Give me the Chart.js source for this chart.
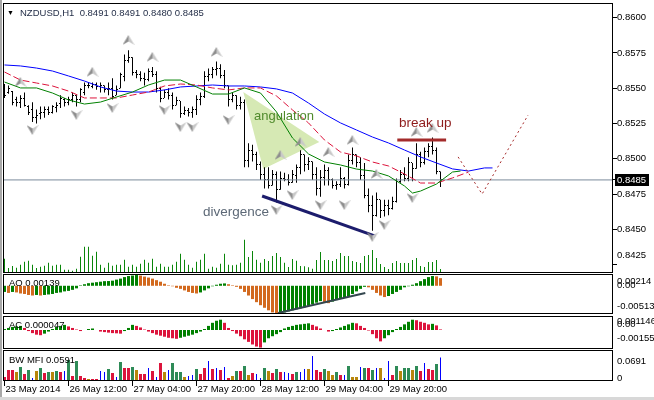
<!DOCTYPE html>
<html>
<head>
<meta charset="utf-8">
<title>NZDUSD,H1</title>
<script src="https://cdn.jsdelivr.net/npm/chart.js@4.4.1/dist/chart.umd.min.js"></script>
<style>
  html, body { margin: 0; padding: 0; background: #fff; }
  #wrap { position: relative; width: 654px; height: 400px; overflow: hidden; background: #fff;
          font-family: 'Liberation Sans', Arial, sans-serif; }
  #wrap canvas { position: absolute; left: 0; }
  .t { position: absolute; white-space: pre; line-height: 1; transform: translateY(-50%); font-size: 9.5px; color: #000; }
  .note { font-size: 13.5px; }
  .edge { position: absolute; }
</style>
</head>
<body>
<div id="wrap">
  <div class="edge" style="left:0;top:0;width:2px;height:400px;background:#a8a8a8"></div>
  <div class="edge" style="left:0;top:397px;width:654px;height:3px;background:#d8d8d8"></div>
  <canvas id="main" width="654" height="273" style="top:0"></canvas>
  <canvas id="ao" width="654" height="40" style="top:274px"></canvas>
  <canvas id="ac" width="654" height="33" style="top:316px"></canvas>
  <canvas id="bw" width="654" height="50" style="top:350px"></canvas>
  <div class="t" style="left:7px;top:12px;font-size:7px">▼</div>
  <div class="t" id="hdr" style="left:20px;top:13px;color:#1f2a44"></div>
  <div class="t" id="aoLbl" style="left:9px;top:283px"></div>
  <div class="t" id="acLbl" style="left:9px;top:325px"></div>
  <div class="t" id="bwLbl" style="left:9px;top:359.5px"></div>
  <div class="t note" style="left:254px;top:115px;font-size:13px;color:#4f8a2b">angulation</div>
  <div class="t note" style="left:203px;top:212px;color:#5d6977">divergence</div>
  <div class="t note" style="left:399px;top:123px;color:#8e1b1b">break up</div>
</div>
<script>
// symbol
const symbol = 'NZDUSD';
const period = 'H1';

// H1 bars, oldest first
const barOpen = [
  0.8552,0.8547,0.8548,0.8542,0.8540,0.8543,0.8537,0.8535,0.8529,0.8532,
  0.8533,0.8535,0.8533,0.8536,0.8539,0.8542,0.8540,0.8542,0.8545,0.8542,
  0.8547,0.8552,0.8551,0.8553,0.8551,0.8552,0.8549,0.8550,0.8545,0.8550,
  0.8558,0.8570,0.8572,0.8561,0.8560,0.8557,0.8556,0.8562,0.8560,0.8550,
  0.8543,0.8547,0.8545,0.8538,0.8541,0.8532,0.8534,0.8533,0.8535,0.8542,
  0.8544,0.8558,0.8560,0.8563,0.8564,0.8559,0.8552,0.8542,0.8545,0.8538,
  0.8540,0.8499,0.8506,0.8503,0.8496,0.8489,0.8485,0.8481,0.8489,0.8478,
  0.8486,0.8485,0.8483,0.8488,0.8494,0.8503,0.8496,0.8498,0.8489,0.8479,
  0.8487,0.8492,0.8485,0.8481,0.8482,0.8486,0.8482,0.8499,0.8503,0.8497,
  0.8488,0.8474,0.8467,0.8460,0.8471,0.8463,0.8467,0.8465,0.8470,0.8484,
  0.8489,0.8486,0.8497,0.8493,0.8503,0.8497,0.8505,0.8509,0.8506,0.8491];
const barHigh = [
  0.8553,0.8552,0.8548,0.8544,0.8545,0.8547,0.8538,0.8540,0.8535,0.8537,
  0.8537,0.8537,0.8538,0.8540,0.8545,0.8543,0.8544,0.8547,0.8545,0.8550,
  0.8554,0.8554,0.8554,0.8554,0.8554,0.8552,0.8554,0.8557,0.8552,0.8561,
  0.8574,0.8577,0.8572,0.8563,0.8562,0.8561,0.8564,0.8565,0.8562,0.8551,
  0.8549,0.8550,0.8547,0.8544,0.8541,0.8537,0.8536,0.8537,0.8545,0.8547,
  0.8562,0.8564,0.8565,0.8569,0.8567,0.8563,0.8552,0.8547,0.8545,0.8544,
  0.8542,0.8511,0.8510,0.8505,0.8498,0.8494,0.8494,0.8492,0.8491,0.8491,
  0.8490,0.8489,0.8492,0.8496,0.8506,0.8503,0.8501,0.8498,0.8494,0.8492,
  0.8496,0.8494,0.8486,0.8484,0.8494,0.8487,0.8503,0.8508,0.8503,0.8501,
  0.8497,0.8479,0.8474,0.8476,0.8471,0.8471,0.8471,0.8473,0.8486,0.8492,
  0.8494,0.8501,0.8497,0.8511,0.8505,0.8508,0.8511,0.8515,0.8508,0.8491];
const barLow = [
  0.8543,0.8546,0.8538,0.8537,0.8536,0.8537,0.8531,0.8526,0.8525,0.8528,
  0.8529,0.8531,0.8532,0.8533,0.8536,0.8537,0.8538,0.8540,0.8537,0.8540,
  0.8545,0.8550,0.8550,0.8549,0.8547,0.8547,0.8545,0.8542,0.8545,0.8550,
  0.8555,0.8568,0.8559,0.8557,0.8555,0.8552,0.8555,0.8558,0.8547,0.8540,
  0.8543,0.8542,0.8535,0.8538,0.8529,0.8531,0.8530,0.8529,0.8531,0.8538,
  0.8543,0.8555,0.8557,0.8559,0.8557,0.8550,0.8537,0.8540,0.8535,0.8535,
  0.8494,0.8494,0.8498,0.8492,0.8485,0.8479,0.8479,0.8481,0.8469,0.8478,
  0.8484,0.8481,0.8483,0.8483,0.8489,0.8491,0.8492,0.8485,0.8474,0.8473,
  0.8481,0.8481,0.8479,0.8478,0.8480,0.8479,0.8481,0.8496,0.8494,0.8485,
  0.8472,0.8462,0.8449,0.8459,0.8458,0.8459,0.8460,0.8464,0.8469,0.8483,
  0.8484,0.8484,0.8484,0.8493,0.8494,0.8496,0.8501,0.8503,0.8489,0.8480];
const barClose = [
  0.8545,0.8550,0.8540,0.8540,0.8543,0.8538,0.8533,0.8529,0.8531,0.8533,
  0.8535,0.8533,0.8537,0.8538,0.8543,0.8540,0.8542,0.8545,0.8542,0.8549,
  0.8552,0.8552,0.8553,0.8551,0.8552,0.8549,0.8550,0.8544,0.8549,0.8560,
  0.8570,0.8572,0.8561,0.8560,0.8557,0.8556,0.8562,0.8560,0.8550,0.8543,
  0.8547,0.8545,0.8538,0.8541,0.8532,0.8534,0.8533,0.8535,0.8542,0.8544,
  0.8558,0.8560,0.8563,0.8564,0.8559,0.8552,0.8542,0.8545,0.8538,0.8540,
  0.8499,0.8506,0.8503,0.8496,0.8489,0.8485,0.8481,0.8489,0.8478,0.8486,
  0.8485,0.8483,0.8489,0.8494,0.8503,0.8496,0.8498,0.8489,0.8479,0.8487,
  0.8492,0.8485,0.8481,0.8482,0.8486,0.8482,0.8499,0.8503,0.8497,0.8488,
  0.8474,0.8467,0.8460,0.8471,0.8463,0.8467,0.8465,0.8470,0.8484,0.8489,
  0.8486,0.8497,0.8493,0.8503,0.8497,0.8505,0.8509,0.8506,0.8491,0.8485];
const tickVolume = [
  860,300,420,320,500,680,740,500,300,380,
  440,620,440,500,500,200,200,140,260,980,
  1580,1580,1040,1280,500,320,620,440,500,500,
  800,380,500,380,560,800,620,860,380,560,
  380,380,500,680,1160,800,500,320,680,800,
  1160,260,380,320,560,1160,500,460,500,620,
  2000,960,1320,800,620,840,720,1020,1200,960,
  620,360,840,740,420,400,340,260,780,1260,
  780,780,720,840,1200,1020,1020,720,660,600,
  1020,1080,1380,900,540,360,240,600,720,600,
  600,600,780,900,420,360,660,660,780,240];

// time axis
const timeTickIdx = [0, 16, 32, 48, 64, 80, 96];
const timeLabels = ['23 May 2014', '26 May 12:00', '27 May 04:00', '27 May 20:00', '28 May 12:00', '29 May 04:00', '29 May 20:00'];

// price axis
const bidPrice = 0.8485;
const priceTicks = [0.8425, 0.8450, 0.8475, 0.8485, 0.8500, 0.8525, 0.8550, 0.8575, 0.8600];

// Alligator (already shifted forward)
const jawIdx = [0,4,8,12,16,20,24,28,32,36,40,44,48,52,56,60,64,68,72,76,80,84,88,92,96,100,104,108,112,116,120,122];
const jawVal = [0.85665,0.85658,0.85643,0.85622,0.85587,0.85551,0.85509,0.85480,0.85473,0.85473,0.85488,0.85509,0.85516,0.85523,0.85516,0.85516,
  0.85509,0.85495,0.85466,0.85395,0.85317,0.85254,0.85204,0.85154,0.85112,0.85062,0.85013,0.84970,0.84928,0.84913,0.84935,0.84935];
const teethIdx = [0,4,8,12,16,20,24,28,32,36,40,44,48,52,56,60,64,68,72,76,80,84,88,92,96,100,104,108,112,116];
const teethVal = [0.85615,0.85558,0.85537,0.85516,0.85480,0.85431,0.85431,0.85431,0.85452,0.85473,0.85516,0.85530,0.85523,0.85502,0.85488,
  0.85502,0.85502,0.85445,0.85346,0.85254,0.85133,0.85048,0.85020,0.84977,0.84949,0.84892,0.84828,0.84828,0.84864,0.84906];
const lipsIdx = [0,4,8,12,16,20,24,28,32,36,40,44,48,52,56,60,64,68,72,76,80,84,88,92,96,100,102,104,108,112,114];
const lipsVal = [0.85544,0.85502,0.85502,0.85466,0.85417,0.85388,0.85402,0.85438,0.85473,0.85523,0.85558,0.85558,0.85509,0.85459,0.85459,0.85502,
  0.85466,0.85332,0.85147,0.85034,0.84977,0.84956,0.84927,0.84913,0.84878,0.84807,0.84757,0.84771,0.84821,0.84906,0.84913];

// Fractals (arrow anchor)
const fracUpIdx = [4, 22, 31, 37, 53, 69, 74, 81, 87, 93, 103, 107];
const fracUpVal = [0.85545, 0.85616, 0.85842, 0.85722, 0.85757, 0.85027, 0.85119, 0.85048, 0.85133, 0.84892, 0.85190, 0.85218];
const fracDnIdx = [7, 18, 27, 40, 44, 47, 56, 68, 72, 79, 85, 92, 95, 102];
const fracDnVal = [0.85204, 0.85311, 0.85360, 0.85346, 0.85225, 0.85225, 0.85275, 0.84637, 0.84743, 0.84672, 0.84672, 0.84446, 0.84531, 0.84722];

// drawn objects (bar index, price)
const angX = [59.7, 64.7, 78.7, 59.7];
const angY = [0.85473, 0.84927, 0.85119, 0.85473];
const divX = [64.4, 92.7];
const divY = [0.84736, 0.84452];
const breakX = [98.2, 110.4];
const breakY = [0.85133, 0.85133];
const projX = [113.4, 119.4, 130.9];
const projY = [0.85013, 0.84750, 0.85310];

// Awesome Oscillator
const aoValues = [
  -0.00112,-0.00130,-0.00112,-0.00121,-0.00140,-0.00149,-0.00167,-0.00177,-0.00167,-0.00177,
  -0.00167,-0.00158,-0.00149,-0.00130,-0.00121,-0.00102,-0.00093,-0.00074,-0.00047,0.00009,
  0.00028,0.00047,0.00056,0.00065,0.00074,0.00084,0.00086,0.00093,0.00112,0.00130,
  0.00158,0.00177,0.00186,0.00195,0.00186,0.00167,0.00149,0.00130,0.00102,0.00074,
  0.00037,0.00009,-0.00009,-0.00037,-0.00056,-0.00084,-0.00112,-0.00130,-0.00140,-0.00121,
  -0.00084,-0.00047,-0.00009,0.00019,0.00037,0.00043,0.00028,0.00009,-0.00019,-0.00056,
  -0.00112,-0.00177,-0.00242,-0.00298,-0.00353,-0.00400,-0.00446,-0.00484,-0.00502,-0.00493,
  -0.00484,-0.00465,-0.00446,-0.00428,-0.00409,-0.00391,-0.00363,-0.00335,-0.00307,-0.00279,
  -0.00298,-0.00316,-0.00288,-0.00260,-0.00233,-0.00205,-0.00186,-0.00149,-0.00102,-0.00056,
  -0.00019,-0.00028,-0.00074,-0.00130,-0.00177,-0.00205,-0.00186,-0.00149,-0.00112,-0.00074,
  -0.00028,-0.00009,0.00019,0.00047,0.00084,0.00121,0.00158,0.00177,0.00171,0.00139];
const aoTicks = [0.00214, 0, -0.00513];
const aoTickText = ['0.00214', '0.00', '-0.00513'];
const aoDivX = [68.4, 90.2];
const aoDivY = [-0.00495, -0.00131];

// Accelerator Oscillator
const acValues = [
  0.000084,0.000169,0.000253,0.000295,0.000337,0.000169,-0.000084,-0.000253,-0.000379,-0.000422,
  -0.000295,-0.000126,0.000084,0.000253,0.000337,0.000422,0.000295,0.000169,0.000042,-0.000084,
  0,0.000084,0.000126,0,-0.000126,-0.000169,-0.000211,-0.000253,-0.000270,-0.000295,
  -0.000084,0.000169,0.000422,0.000337,0.000211,0.000042,-0.000126,-0.000253,-0.000379,-0.000464,
  -0.000548,-0.000632,-0.000674,-0.000717,-0.000632,-0.000548,-0.000464,-0.000379,-0.000253,-0.000126,
  0.000084,0.000337,0.000590,0.000759,0.000843,0.000590,0.000169,-0.000084,-0.000295,-0.000506,
  -0.000759,-0.000969,-0.001180,-0.001349,-0.001433,-0.001012,-0.000674,-0.000506,-0.000337,-0.000169,
  0.000126,0.000253,0.000337,0.000422,0.000464,0.000506,0.000548,0.000422,0.000295,0.000126,
  0,-0.000126,-0.000084,0.000084,0.000211,0.000337,0.000464,0.000590,0.000548,0.000337,
  0.000169,-0.000042,-0.000337,-0.000674,-0.000927,-0.000674,-0.000422,-0.000169,0.000084,0.000253,
  0.000464,0.000674,0.000843,0.000801,0.000674,0.000590,0.000464,0.000506,0.000379,0.000047];
const acTicks = [0.001146, 0, -0.00155];
const acTickText = ['0.001146', '0.00', '-0.00155'];

// Market Facilitation Index, with its colour class per bar
const bwValues = [
  0.0101,0.0277,0.0277,0.0226,0.0352,0.0176,0.0277,0.0075,0.0252,0.0327,
  0.0201,0.0226,0.0226,0.0252,0.0226,0.0252,0.0528,0.0126,0.0503,0.0126,
  0.0075,0.0050,0.0050,0.0050,0.0252,0.0226,0.0302,0.0201,0.0101,0.0478,
  0.0327,0.0327,0.0352,0.0277,0.0176,0.0176,0.0327,0.0252,0.0101,0.0453,
  0.0226,0.0277,0.0453,0.0226,0.0226,0.0101,0.0126,0.0151,0.0302,0.0176,
  0.0327,0.0503,0.0302,0.0327,0.0277,0.0352,0.0075,0.0126,0.0252,0.0252,
  0.0377,0.0151,0.0201,0.0176,0.0075,0.0327,0.0252,0.0201,0.0302,0.0226,
  0.0226,0.0201,0.0176,0.0226,0.0226,0.0302,0.0302,0.0629,0.0277,0.0226,
  0.0302,0.0252,0.0151,0.0226,0.0151,0.0151,0.0377,0.0101,0.0101,0.0352,
  0.0327,0.0327,0.0277,0.0327,0.0327,0.0075,0.0503,0.0151,0.0377,0.0252,
  0.0327,0.0327,0.0277,0.0377,0.0252,0.0453,0.0302,0.0277,0.0428,0.0591];
const bwClass = (
  'rrrbgrgubg' + 'rgbgrugrgr' + 'rbrruugrug' + 'rrgbrrurur' + 'bugggbuugr' +
  'rurururbgr' + 'gbruugbrgr' + 'uurguubu' + 'rr' + 'gbbgrugbbu' + 'grgubuurgb' + 'ggbgrurrgu').split('');
const bwTicks = [0.0691, 0];
const bwTickText = ['0.0691', '0'];

// ---- layout (pixels, not data) ----
const X_MIN = -0.375, X_MAX = 152.125;
const AXIS_W = 41;
const FONT = "'Liberation Sans', Arial, sans-serif";
const priceShift = [-9.6, 0, 0, 0, 0, 0, 0, 0, 0];
const aoShift = [7.7, 0, -7.3];
const acShift = [5, -5.3, -10.3];
const bwShift = [8.2, -2.7];

Chart.defaults.font.family = FONT;
Chart.defaults.font.size = 9.5;
Chart.defaults.color = '#000';
Chart.defaults.animation = false;
Chart.defaults.events = [];
Chart.defaults.plugins.legend.display = false;
Chart.defaults.plugins.tooltip.enabled = false;

const idx = barOpen.map((_, i) => i);
const last = idx.length - 1;
const pts = (xs, ys) => xs.map((x, i) => ({ x, y: ys[i] }));

// header texts
document.getElementById('hdr').textContent = symbol + ',' + period + '  ' +
  [barOpen[last], barHigh[last], barLow[last], barClose[last]].map(v => v.toFixed(4)).join(' ');
document.getElementById('aoLbl').textContent = 'AO ' + aoValues[last].toFixed(5);
document.getElementById('acLbl').textContent = 'AC ' + acValues[last].toFixed(6);
document.getElementById('bwLbl').textContent = 'BW MFI ' + bwValues[last].toFixed(4);

// pane border
const paneFrame = {
  id: 'paneFrame',
  afterDraw(chart) {
    const { ctx, chartArea: a } = chart;
    ctx.save();
    ctx.strokeStyle = '#000';
    ctx.lineWidth = 1;
    ctx.strokeRect(a.left + 0.5, a.top + 0.5, a.right - a.left - 1, a.bottom - a.top - 1);
    ctx.restore();
  }
};

// right-hand scale labels, placed the way the terminal places them
function scaleLabels(values, texts, shifts, highlight) {
  return {
    id: 'scaleLabels',
    afterDraw(chart) {
      const { ctx, chartArea: a } = chart;
      const s = chart.scales.y;
      ctx.save();
      ctx.font = '9.5px ' + FONT;
      ctx.textBaseline = 'middle';
      ctx.textAlign = 'left';
      values.forEach((v, i) => {
        const y = s.getPixelForValue(v) + (shifts[i] || 0);
        const x = a.right + 4;
        if (i === highlight) {
          const w = ctx.measureText(texts[i]).width;
          ctx.fillStyle = '#000';
          ctx.fillRect(x - 2, Math.round(y) - 6, Math.ceil(w) + 4, 12);
          ctx.fillStyle = '#fff';
        } else {
          ctx.fillStyle = '#000';
        }
        ctx.fillText(texts[i], x, y);
      });
      ctx.restore();
    }
  };
}

// open / close ticks of the bars
const barTicks = {
  id: 'barTicks',
  afterDatasetDraw(chart, args) {
    if (chart.data.datasets[args.index].label !== 'HL') return;
    const { ctx, scales: { x, y } } = chart;
    ctx.save();
    ctx.fillStyle = '#000';
    idx.forEach(i => {
      const px = Math.floor(x.getPixelForValue(i));
      ctx.fillRect(px - 1, Math.floor(y.getPixelForValue(barOpen[i])), 1, 1);
      ctx.fillRect(px + 1, Math.floor(y.getPixelForValue(barClose[i])), 1, 1);
    });
    ctx.restore();
  }
};

function xScale(show) {
  return {
    type: 'linear', min: X_MIN, max: X_MAX, offset: false, display: show,
    grid: { display: show, offset: false, drawOnChartArea: false, drawTicks: true, tickLength: 5, color: '#000' },
    border: { display: false },
    afterBuildTicks: s => { s.ticks = timeTickIdx.map(v => ({ value: v })); },
    ticks: {
      autoSkip: false, maxRotation: 0, minRotation: 0, align: 'start', padding: -2, labelOffset: 1,
      callback: v => timeLabels[timeTickIdx.indexOf(v)]
    },
    afterFit: s => { if (show) s.height = 19; s.paddingLeft = 0; s.paddingRight = 0; }
  };
}

function yScale(min, max, vals, marks) {
  return {
    type: 'linear', position: 'right', min, max, bounds: 'data', beginAtZero: false,
    grid: { display: marks, drawOnChartArea: false, drawTicks: marks, tickLength: 4, color: '#000' },
    border: { display: false },
    afterBuildTicks: s => { s.ticks = vals.map(v => ({ value: v })); },
    ticks: { display: false, autoSkip: false },
    afterFit: s => { s.width = AXIS_W; s.paddingTop = 0; s.paddingBottom = 0; }
  };
}

function arrowImg(up) {
  const c = document.createElement('canvas');
  c.width = 12; c.height = 10;
  const g = c.getContext('2d');
  const p = up ? [[6, 0], [12, 10], [6, 6.5], [0, 10]] : [[6, 10], [12, 0], [6, 3.5], [0, 0]];
  g.fillStyle = '#8e8e8e';
  g.beginPath(); g.moveTo(...p[0]); g.lineTo(...p[2]); g.lineTo(...p[3]); g.closePath(); g.fill();
  g.fillStyle = '#c8c8c8';
  g.beginPath(); g.moveTo(...p[0]); g.lineTo(...p[1]); g.lineTo(...p[2]); g.closePath(); g.fill();
  return c;
}

const lineDs = (label, xs, ys, color, extra) => Object.assign({
  type: 'line', label, data: pts(xs, ys), borderColor: color, borderWidth: 1,
  pointRadius: 0, tension: 0, fill: false
}, extra || {});

const paneLayout = top => ({ autoPadding: false, padding: { left: 3, right: 0, top, bottom: 0 } });

// main pane
new Chart(document.getElementById('main'), {
  type: 'bar',
  data: {
    datasets: [
      lineDs('angulation', angX, angY, 'rgba(0,0,0,0)', { fill: 'shape', backgroundColor: '#d6e9b4', borderWidth: 0, order: 30 }),
      { label: 'volume', data: idx.map(i => ({ x: i, y: tickVolume[i] })), yAxisID: 'yVol',
        backgroundColor: '#0a860a', barThickness: 1, inflateAmount: 0, grouped: false, order: 29 },
      { label: 'HL', data: idx.map(i => ({ x: i, y: [barLow[i], barHigh[i]] })),
        backgroundColor: '#000', barThickness: 1, inflateAmount: 0, grouped: false, order: 28 },
      lineDs('bid', [X_MIN, X_MAX], [bidPrice, bidPrice], '#7b8b9b', { order: 27 }),
      lineDs('jaw', jawIdx, jawVal, '#0000ff', { order: 26 }),
      lineDs('teeth', teethIdx, teethVal, '#dc143c', { borderDash: [7, 3], order: 25 }),
      lineDs('lips', lipsIdx, lipsVal, '#008000', { order: 24 }),
      lineDs('projection', projX, projY, '#a52a2a', { borderDash: [2, 3], order: 23 }),
      lineDs('divergence', divX, divY, '#1c1c6c', { borderWidth: 3, order: 22 }),
      lineDs('break', breakX, breakY, '#a32b2b', { borderWidth: 3, order: 21 }),
      { type: 'scatter', label: 'fracUp', data: pts(fracUpIdx, fracUpVal), pointStyle: arrowImg(true), pointRadius: 6, order: 20 },
      { type: 'scatter', label: 'fracDn', data: pts(fracDnIdx, fracDnVal), pointStyle: arrowImg(false), pointRadius: 6, order: 19 }
    ]
  },
  options: {
    responsive: false,
    layout: paneLayout(3),
    scales: {
      x: xScale(false),
      y: yScale(0.841902, 0.861042, priceTicks, true),
      yVol: { type: 'linear', display: false, min: 0, max: 16200 }
    }
  },
  plugins: [paneFrame, barTicks,
    scaleLabels(priceTicks, priceTicks.map(v => v.toFixed(4)), priceShift, priceTicks.indexOf(bidPrice))]
});

// AO pane
new Chart(document.getElementById('ao'), {
  type: 'bar',
  data: {
    datasets: [
      { label: 'AO', data: idx.map(i => ({ x: i, y: aoValues[i] })),
        backgroundColor: aoValues.map((v, i) => i === 0 || v > aoValues[i - 1] ? '#008000' : '#d2691e'),
        barThickness: 3, inflateAmount: 0, grouped: false, order: 2 },
      lineDs('aoDiv', aoDivX, aoDivY, '#34474f', { borderWidth: 2, order: 1 })
    ]
  },
  options: {
    responsive: false,
    layout: paneLayout(0),
    scales: { x: xScale(false), y: yScale(-0.00513, 0.00214, aoTicks, false) }
  },
  plugins: [paneFrame, scaleLabels(aoTicks, aoTickText, aoShift, -1)]
});

// AC pane
new Chart(document.getElementById('ac'), {
  type: 'bar',
  data: {
    datasets: [
      { label: 'AC', data: idx.map(i => ({ x: i, y: acValues[i] })),
        backgroundColor: acValues.map((v, i) => i === 0 || v > acValues[i - 1] ? '#008000' : '#dc143c'),
        barThickness: 3, inflateAmount: 0, grouped: false }
    ]
  },
  options: {
    responsive: false,
    layout: paneLayout(0),
    scales: { x: xScale(false), y: yScale(-0.00155, 0.001146, acTicks, false) }
  },
  plugins: [paneFrame, scaleLabels(acTicks, acTickText, acShift, -1)]
});

// BW MFI pane
const bwColors = { g: '#2e8b57', b: '#b8860b', r: '#dc143c', u: '#0000ff' };
const bwWide = idx.filter(i => bwClass[i] !== 'u');
const bwThin = idx.filter(i => bwClass[i] === 'u');
new Chart(document.getElementById('bw'), {
  type: 'bar',
  data: {
    datasets: [
      { label: 'MFI', data: bwWide.map(i => ({ x: i, y: bwValues[i] })),
        backgroundColor: bwWide.map(i => bwColors[bwClass[i]]),
        barThickness: 3, inflateAmount: 0, grouped: false },
      { label: 'MFI fake', data: bwThin.map(i => ({ x: i, y: bwValues[i] })),
        backgroundColor: bwColors.u, barThickness: 1, inflateAmount: 0, grouped: false }
    ]
  },
  options: {
    responsive: false,
    layout: paneLayout(0),
    scales: { x: xScale(true), y: yScale(0, 0.078, bwTicks, false) }
  },
  plugins: [paneFrame, scaleLabels(bwTicks, bwTickText, bwShift, -1)]
});
</script>
</body>
</html>
